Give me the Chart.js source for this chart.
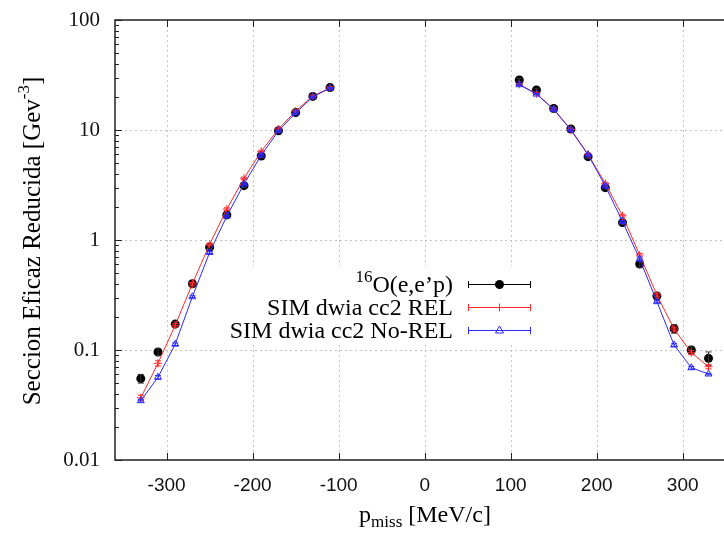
<!DOCTYPE html>
<html><head><meta charset="utf-8">
<script src="https://cdn.jsdelivr.net/npm/chart.js@4.4.0/dist/chart.umd.min.js"></script>
<style>html,body{margin:0;padding:0;background:#fff}canvas{display:block}</style>
</head><body>
<canvas id="c" width="724" height="533"></canvas>
<script>
// ---- data ----
const xLeft  = [-330,-310,-290,-270,-250,-230,-210,-190,-170,-150,-130,-110];
const xRight = [110,130,150,170,190,210,230,250,270,290,310,330];

const expLeft     = [0.055,0.096,0.172,0.40,0.86,1.69,3.12,5.8,9.85,14.4,20.2,24.3];
const expLeftErr  = [0.005,0.007,0.010,0.015,0.04,0.06,0.10,0.2,0.3,0.4,0.5,0.6];
const expRight    = [28.5,23.1,15.7,10.2,5.72,2.99,1.44,0.605,0.31,0.156,0.100,0.084];
const expRightErr = [0.8,0.6,0.4,0.3,0.2,0.10,0.06,0.04,0.02,0.014,0.008,0.012];

const relLeft     = [0.0368,0.0757,0.168,0.40,0.914,1.91,3.64,6.4,10.2,14.9,20.3,24.2];
const relLeftErr  = [0.002,0.004,0.006,0.012,0.025,0.05,0.09,0.15,0.25,0.35,0.45,0.5];
const relRight    = [26.0,21.4,15.5,10.1,6.0,3.27,1.66,0.73,0.316,0.155,0.0946,0.0705];
const relRightErr = [0.5,0.45,0.35,0.25,0.15,0.09,0.05,0.025,0.012,0.006,0.004,0.003];

const nrLeft      = [0.0346,0.0565,0.113,0.305,0.77,1.65,3.23,5.9,9.8,14.3,20.0,24.0];
const nrLeftErr   = [0.001,0.002,0.003,0.006,0.015,0.03,0.06,0.1,0.15,0.2,0.3,0.35];
const nrRight     = [25.8,21.2,15.4,10.0,5.95,3.1,1.47,0.67,0.275,0.111,0.069,0.0605];
const nrRightErr  = [0.35,0.3,0.2,0.15,0.1,0.06,0.03,0.015,0.006,0.003,0.002,0.001];

const xTicks = [-300,-200,-100,0,100,200,300];
const xTickLabels = ['-300','-200','-100','0','100','200','300'];
const yTicks = [0.01,0.1,1,10,100];
const yTickLabels = ['0.01','0.1','1','10','100'];

const seriesLabels = ['O(e,e\u2019p)','SIM dwia cc2 REL','SIM dwia cc2 No-REL'];

// ---- helpers ----
function pts(xl, yl, xr, yr) {
  const a = xl.map((x,i)=>({x:x,y:yl[i]}));
  a.push({x:0,y:null});
  return a.concat(xr.map((x,i)=>({x:x,y:yr[i]})));
}
function errs(el, er) { return el.concat([0], er); }

const SERIF = '"Liberation Serif", "Times New Roman", serif';
const SANS = '"Liberation Sans", Arial, sans-serif';
const RED = '#ff2a2a';
const BLUE = '#2a2aff';

// frame, grid and inward ticks
const framePlugin = {
  id: 'frame',
  beforeDatasetsDraw(chart) {
    const {ctx, chartArea: a, scales: {x, y}} = chart;
    ctx.save();
    ctx.strokeStyle = '#c4c4c4';
    ctx.lineWidth = 1;
    ctx.setLineDash([2,3]);
    xTicks.forEach(v => {
      const px = Math.round(x.getPixelForValue(v)) + 0.5;
      ctx.beginPath(); ctx.moveTo(px, a.top); ctx.lineTo(px, a.bottom); ctx.stroke();
    });
    yTicks.forEach(v => {
      const py = Math.round(y.getPixelForValue(v)) + 0.5;
      if (py <= a.top + 1 || py >= a.bottom - 1) return;
      ctx.beginPath(); ctx.moveTo(a.left, py); ctx.lineTo(a.right, py); ctx.stroke();
    });
    ctx.setLineDash([]);
    ctx.strokeStyle = '#222';
    ctx.lineWidth = 1.5;
    ctx.beginPath();
    ctx.moveTo(a.right, a.top); ctx.lineTo(a.left, a.top);
    ctx.lineTo(a.left, a.bottom); ctx.lineTo(a.right, a.bottom);
    ctx.stroke();
    ctx.lineWidth = 1;
    ctx.beginPath();
    xTicks.forEach(v => {
      const px = Math.round(x.getPixelForValue(v)) + 0.5;
      ctx.moveTo(px, a.bottom); ctx.lineTo(px, a.bottom - 7);
      ctx.moveTo(px, a.top); ctx.lineTo(px, a.top + 7);
    });
    for (let d = 0; d < yTicks.length; d++) {
      const base = yTicks[d];
      const py = Math.round(y.getPixelForValue(base)) + 0.5;
      ctx.moveTo(a.left, py); ctx.lineTo(a.left + 7, py);
      if (d === yTicks.length - 1) break;
      for (let k = 2; k <= 9; k++) {
        const pm = Math.round(y.getPixelForValue(base * k)) + 0.5;
        ctx.moveTo(a.left, pm); ctx.lineTo(a.left + 4, pm);
      }
    }
    ctx.stroke();
    ctx.restore();
  }
};

// error bars drawn with each dataset
const errorPlugin = {
  id: 'errbars',
  afterDatasetDraw(chart, args) {
    const ds = chart.data.datasets[args.index];
    if (!ds.errors) return;
    const {ctx, scales: {x, y}} = chart;
    ctx.save();
    ctx.strokeStyle = ds.errColor;
    ctx.lineWidth = 1;
    ds.data.forEach((p, i) => {
      if (p.y === null) return;
      const e = ds.errors[i];
      if (!e) return;
      const px = x.getPixelForValue(p.x);
      const y1 = y.getPixelForValue(Math.max(p.y - e, 1e-6));
      const y2 = y.getPixelForValue(p.y + e);
      ctx.beginPath();
      ctx.moveTo(px, y1); ctx.lineTo(px, y2);
      ctx.moveTo(px - 3, y1); ctx.lineTo(px + 3, y1);
      ctx.moveTo(px - 3, y2); ctx.lineTo(px + 3, y2);
      ctx.stroke();
    });
    ctx.restore();
  }
};

// axis titles and gnuplot-style key
const textPlugin = {
  id: 'texts',
  afterDraw(chart) {
    const ctx = chart.ctx;
    ctx.save();
    ctx.fillStyle = '#000';
    ctx.textBaseline = 'alphabetic';
    ctx.textAlign = 'left';

    // y title (rotated)
    const yMain = 'Seccion Eficaz Reducida [Gev';
    const fMain = '25px ' + SERIF, fSup = '17px ' + SERIF;
    ctx.font = fMain; const w1 = ctx.measureText(yMain).width; const w3 = ctx.measureText(']').width;
    ctx.font = fSup; const w2 = ctx.measureText('-3').width;
    const tot = w1 + w2 + w3;
    ctx.save();
    ctx.translate(40, 241);
    ctx.rotate(-Math.PI / 2);
    let cx = -tot / 2;
    ctx.font = fMain; ctx.fillText(yMain, cx, 0); cx += w1;
    ctx.font = fSup; ctx.fillText('-3', cx, -11); cx += w2;
    ctx.font = fMain; ctx.fillText(']', cx, 0);
    ctx.restore();

    // x title
    const xa = 'p', xs = 'miss', xb = ' [MeV/c]';
    const fX = '24px ' + SERIF, fXs = '17px ' + SERIF;
    ctx.font = fX; const a1 = ctx.measureText(xa).width, a3 = ctx.measureText(xb).width;
    ctx.font = fXs; const a2 = ctx.measureText(xs).width;
    let sx = 425 - (a1 + a2 + a3) / 2;
    ctx.font = fX; ctx.fillText(xa, sx, 522); sx += a1;
    ctx.font = fXs; ctx.fillText(xs, sx, 527); sx += a2;
    ctx.font = fX; ctx.fillText(xb, sx, 522);

    // key
    ctx.fillStyle = '#fff';
    ctx.fillRect(222, 266, 324, 78);
    const rows = [292, 315, 338];
    const colors = ['#000', RED, BLUE];
    const keyRight = 453, lx1 = 468, lx2 = 531, lxm = 499.5;
    ctx.textAlign = 'right';
    ctx.fillStyle = '#000';
    const fKey = '24px ' + SERIF;
    ctx.font = fKey;
    const wO = ctx.measureText(seriesLabels[0]).width;
    ctx.fillText(seriesLabels[0], keyRight, rows[0]);
    ctx.font = '17px ' + SERIF;
    ctx.fillText('16', keyRight - wO, rows[0] - 10);
    ctx.font = fKey;
    ctx.fillText(seriesLabels[1], keyRight, rows[1]);
    ctx.fillText(seriesLabels[2], keyRight, rows[2]);
    rows.forEach((ry, i) => {
      const ly = ry - 8 + 0.5;
      ctx.strokeStyle = colors[i];
      ctx.lineWidth = 1;
      ctx.beginPath();
      ctx.moveTo(lx1, ly); ctx.lineTo(lx2, ly);
      ctx.moveTo(lx1 + 0.5, ly - 3.5); ctx.lineTo(lx1 + 0.5, ly + 3.5);
      ctx.moveTo(lx2 - 0.5, ly - 3.5); ctx.lineTo(lx2 - 0.5, ly + 3.5);
      ctx.stroke();
      ctx.beginPath();
      if (i === 0) {
        ctx.fillStyle = '#000';
        ctx.arc(lxm, ly, 4.5, 0, Math.PI * 2); ctx.fill();
      } else if (i === 1) {
        ctx.moveTo(lxm - 4, ly); ctx.lineTo(lxm + 4, ly);
        ctx.moveTo(lxm, ly - 4); ctx.lineTo(lxm, ly + 4); ctx.stroke();
      } else {
        ctx.moveTo(lxm, ly - 4.5); ctx.lineTo(lxm + 4, ly + 2.5); ctx.lineTo(lxm - 4, ly + 2.5);
        ctx.closePath(); ctx.stroke();
      }
    });
    ctx.restore();
  }
};

new Chart(document.getElementById('c'), {
  type: 'line',
  data: {
    datasets: [
      { label: seriesLabels[0], data: pts(xLeft, expLeft, xRight, expRight),
        errors: errs(expLeftErr, expRightErr), errColor: '#333',
        showLine: false, pointStyle: 'circle', pointRadius: 4.5,
        pointBackgroundColor: '#000', pointBorderColor: '#000', pointBorderWidth: 0, order: 3 },
      { label: seriesLabels[1], data: pts(xLeft, relLeft, xRight, relRight),
        errors: errs(relLeftErr, relRightErr), errColor: RED,
        borderColor: RED, borderWidth: 1, pointStyle: 'cross', pointRadius: 4,
        pointBorderColor: RED, pointBorderWidth: 1, spanGaps: false, order: 2 },
      { label: seriesLabels[2], data: pts(xLeft, nrLeft, xRight, nrRight),
        errors: errs(nrLeftErr, nrRightErr), errColor: BLUE,
        borderColor: BLUE, borderWidth: 1, pointStyle: 'triangle', pointRadius: 4,
        pointBorderColor: BLUE, pointBackgroundColor: 'rgba(0,0,0,0)', pointBorderWidth: 1,
        spanGaps: false, order: 1 }
    ]
  },
  options: {
    responsive: false,
    devicePixelRatio: 1,
    animation: false,
    events: [],
    layout: { autoPadding: false, padding: { top: 20, right: 0, bottom: 0, left: 0 } },
    elements: { line: { tension: 0 } },
    plugins: { legend: { display: false }, tooltip: { enabled: false }, title: { display: false } },
    scales: {
      x: {
        type: 'linear', min: -360, max: 348,
        grid: { display: false, drawTicks: false },
        border: { display: false },
        afterBuildTicks: s => { s.ticks = xTicks.map(v => ({ value: v })); },
        afterFit: s => { s.height = 73; s.paddingLeft = 0; s.paddingRight = 0; },
        ticks: {
          autoSkip: false, maxRotation: 0, minRotation: 0, padding: 14, color: '#111',
          font: { family: SANS, size: 19 },
          callback: (v, i) => xTickLabels[i]
        }
      },
      y: {
        type: 'logarithmic', min: 0.01, max: 100,
        grid: { display: false, drawTicks: false },
        border: { display: false },
        afterBuildTicks: s => { s.ticks = yTicks.map(v => ({ value: v, major: true })); },
        afterFit: s => { s.width = 115; s.paddingTop = 0; s.paddingBottom = 0; },
        ticks: {
          autoSkip: false, padding: 15, color: '#111',
          font: { family: SERIF, size: 21 },
          callback: (v, i) => yTickLabels[i]
        }
      }
    }
  },
  plugins: [framePlugin, errorPlugin, textPlugin]
});
</script>
</body></html>
